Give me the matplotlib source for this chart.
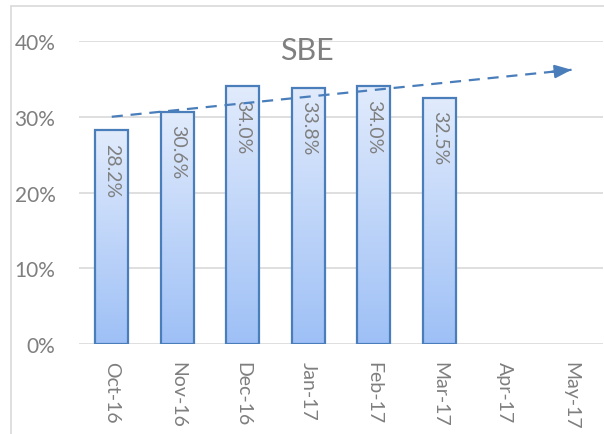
import numpy as np
import matplotlib
matplotlib.use('Agg')
import matplotlib.pyplot as plt
from matplotlib.patches import Rectangle
from matplotlib.colors import LinearSegmentedColormap
from matplotlib.ticker import MultipleLocator, PercentFormatter

# data
months = ['Oct-16', 'Nov-16', 'Dec-16', 'Jan-17', 'Feb-17', 'Mar-17', 'Apr-17', 'May-17']
sbe = [28.2, 30.6, 34.0, 33.8, 34.0, 32.5]   # % per month, Apr/May empty
trend_x = [0, 7.02]          # trend arrow start/end (category index)
trend_y = [30.0, 36.2]       # trend arrow start/end (%)
title = 'SBE'

gray = '#7f7f7f'
edge = '#4a7ebb'
plt.rcParams['font.family'] = ['Lato', 'DejaVu Sans']

fig = plt.figure(figsize=(6.04, 4.35), dpi=100)
ax = fig.add_axes([79/604, 1 - 345/435, 524/604, 303/435])

# chart frame
fig.patches.append(Rectangle((11/604, -0.1), 1.2, 1 - 7/435 + 0.1, transform=fig.transFigure,
                             fill=False, edgecolor='#d9d9d9', linewidth=1.2))

x = np.arange(len(sbe))
bars = ax.bar(x, sbe, width=0.5, color='none', edgecolor=edge, linewidth=1.6, zorder=3)

# vertical gradient inside each bar
grad = np.linspace(0, 1, 256).reshape(-1, 1)
cmap = LinearSegmentedColormap.from_list('g', ['#9ec0f6', '#e1ebfc'])
for b in bars:
    bx, by, bw, bh = b.get_x(), b.get_y(), b.get_width(), b.get_height()
    im = ax.imshow(grad, extent=[bx, bx + bw, by, by + bh], origin='lower', cmap=cmap,
                   aspect='auto', zorder=2)
    im.set_clip_path(b)

for xi, v in zip(x, sbe):
    ax.text(xi, v - 1.6, f'{v:.1f}%', rotation=270, ha='center', va='top',
            color=gray, fontsize=14, zorder=4)

# trend arrow
ax.plot(trend_x, trend_y, color=edge, linestyle=(0, (5, 3.5)), linewidth=1.6, zorder=5)
slope = (trend_y[1] - trend_y[0]) / (trend_x[1] - trend_x[0])
ax.annotate('', xy=(trend_x[1], trend_y[1]),
            xytext=(trend_x[1] - 0.3, trend_y[1] - 0.3 * slope),
            arrowprops=dict(arrowstyle='-|>,head_length=1.0,head_width=0.4', color=edge, lw=1.6,
                            shrinkA=0, shrinkB=0), zorder=5)

ax.text(0.435, 0.97, title, transform=ax.transAxes, ha='center', va='center',
        fontsize=22, color=gray)

ax.set_xlim(-0.5, len(months) - 0.5)
ax.set_ylim(0, 40)
ax.set_xticks(np.arange(len(months)))
ax.set_xticklabels(months, rotation=270, color=gray, fontsize=14)
ax.yaxis.set_major_locator(MultipleLocator(10))
ax.yaxis.set_major_formatter(PercentFormatter(decimals=0))
ax.tick_params(axis='y', colors=gray, labelsize=15, length=0, pad=17)
ax.tick_params(axis='x', length=0, pad=12)
ax.grid(axis='y', color='#d9d9d9', linewidth=1.2, zorder=0)
ax.set_axisbelow(True)
for s in ax.spines.values():
    s.set_visible(False)

fig.savefig('out.png', dpi=100)
